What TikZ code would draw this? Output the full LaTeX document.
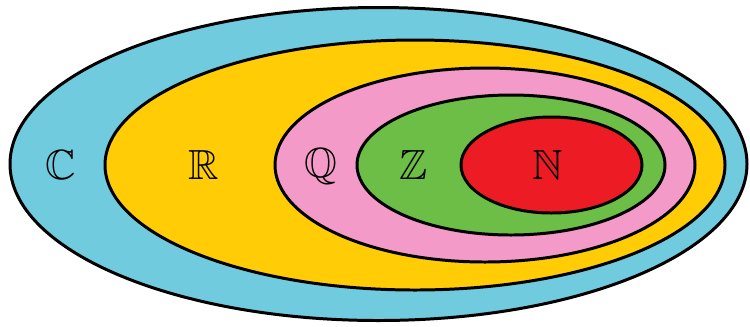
\documentclass[tikz,border=0pt]{standalone}
\usepackage{amssymb}
\usetikzlibrary{positioning}

\definecolor{setC}{RGB}{112,203,222}
\definecolor{setR}{RGB}{255,204,5}
\definecolor{setQ}{RGB}{243,154,200}
\definecolor{setZ}{RGB}{108,190,70}
\definecolor{setN}{RGB}{237,28,36}

\begin{document}
\begin{tikzpicture}[
    x=0.02cm, y=-0.02cm,
    setline/.style={draw=black, line width=1.7pt},
    setname/.style={font=\fontsize{24}{29}\selectfont, text=black, inner sep=0pt}
  ]
    \useasboundingbox (0,0) rectangle (750,326);

    \filldraw[setline, fill=setC] (378.5,164) ellipse [x radius=368.5, y radius=156.5];
    \filldraw[setline, fill=setR] (415,165)   ellipse [x radius=310, y radius=125];
    \filldraw[setline, fill=setQ] (485,165)   ellipse [x radius=210, y radius=97];
    \filldraw[setline, fill=setZ] (511,165)   ellipse [x radius=154, y radius=70];
    \filldraw[setline, fill=setN] (551.5,165) ellipse [x radius=90.5, y radius=48];

    \node[setname] (cc) at (61,165)  {$\mathbb{C}$};
    \node[setname] (rr) at (204,165) {$\mathbb{R}$};
    \node[setname] (qq) at (321,166) {$\mathbb{Q}$};
    \node[setname] (zz) at (414,165) {$\mathbb{Z}$};
    \node[setname] (nn) at (548,165) {$\mathbb{N}$};
  \end{tikzpicture}
\end{document}
